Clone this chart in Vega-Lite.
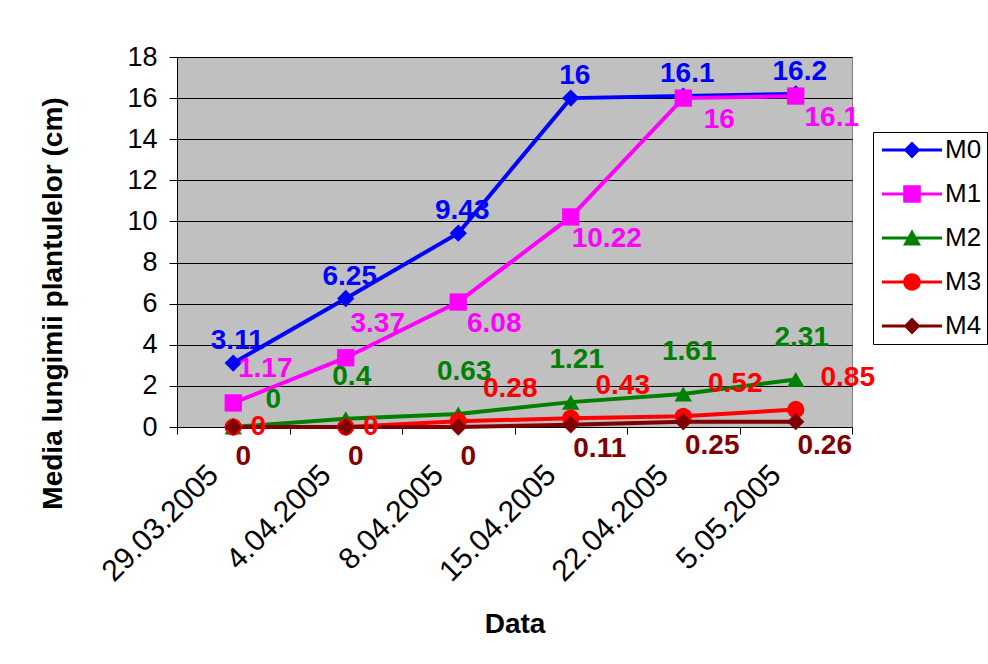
{
  "$schema": "https://vega.github.io/schema/vega-lite/v6.json",
  "autosize": "none",
  "width": 675,
  "height": 370,
  "padding": {"left": 177, "top": 57, "right": 136, "bottom": 237},
  "background": "white",
  "data": {
    "values": [
      {"date": "29.03.2005", "series": "M0", "value": 3.11},
      {"date": "4.04.2005", "series": "M0", "value": 6.25},
      {"date": "8.04.2005", "series": "M0", "value": 9.43},
      {"date": "15.04.2005", "series": "M0", "value": 16},
      {"date": "22.04.2005", "series": "M0", "value": 16.1},
      {"date": "5.05.2005", "series": "M0", "value": 16.2},
      {"date": "29.03.2005", "series": "M1", "value": 1.17},
      {"date": "4.04.2005", "series": "M1", "value": 3.37},
      {"date": "8.04.2005", "series": "M1", "value": 6.08},
      {"date": "15.04.2005", "series": "M1", "value": 10.22},
      {"date": "22.04.2005", "series": "M1", "value": 16},
      {"date": "5.05.2005", "series": "M1", "value": 16.1},
      {"date": "29.03.2005", "series": "M2", "value": 0},
      {"date": "4.04.2005", "series": "M2", "value": 0.4},
      {"date": "8.04.2005", "series": "M2", "value": 0.63},
      {"date": "15.04.2005", "series": "M2", "value": 1.21},
      {"date": "22.04.2005", "series": "M2", "value": 1.61},
      {"date": "5.05.2005", "series": "M2", "value": 2.31},
      {"date": "29.03.2005", "series": "M3", "value": 0},
      {"date": "4.04.2005", "series": "M3", "value": 0},
      {"date": "8.04.2005", "series": "M3", "value": 0.28},
      {"date": "15.04.2005", "series": "M3", "value": 0.43},
      {"date": "22.04.2005", "series": "M3", "value": 0.52},
      {"date": "5.05.2005", "series": "M3", "value": 0.85},
      {"date": "29.03.2005", "series": "M4", "value": 0},
      {"date": "4.04.2005", "series": "M4", "value": 0},
      {"date": "8.04.2005", "series": "M4", "value": 0},
      {"date": "15.04.2005", "series": "M4", "value": 0.11},
      {"date": "22.04.2005", "series": "M4", "value": 0.25},
      {"date": "5.05.2005", "series": "M4", "value": 0.26}
    ]
  },
  "encoding": {
    "x": {
      "field": "date",
      "type": "nominal",
      "sort": ["29.03.2005", "4.04.2005", "8.04.2005", "15.04.2005", "22.04.2005", "5.05.2005"],
      "scale": {"type": "band", "paddingInner": 0, "paddingOuter": 0},
      "axis": {
        "title": "Data",
        "tickBand": "extent",
        "labelAngle": -45,
        "labelAlign": "right",
        "labelBaseline": "middle",
        "labelPadding": 36,
        "labelOffset": -20,
        "labelFontSize": 30,
        "tickSize": 7,
        "titlePadding": 24
      }
    },
    "y": {
      "field": "value",
      "type": "quantitative",
      "scale": {"domain": [0, 18], "nice": false, "zero": true},
      "axis": {
        "title": "Media lungimii plantulelor (cm)",
        "values": [0, 2, 4, 6, 8, 10, 12, 14, 16, 18],
        "grid": true,
        "tickSize": 8,
        "labelPadding": 12,
        "labelFontSize": 27,
        "titleX": -124,
        "titleY": 246,
        "titleAlign": "center",
        "titleBaseline": "middle"
      }
    },
    "color": {
      "field": "series",
      "type": "nominal",
      "scale": {
        "domain": ["M0", "M1", "M2", "M3", "M4"],
        "range": ["#0000ff", "#ff00ff", "#008000", "#ff0000", "#800000"]
      },
      "legend": {
        "title": null,
        "orient": "none",
        "legendX": 696,
        "legendY": 75,
        "padding": 5,
        "strokeColor": "black",
        "fillColor": "white",
        "labelFontSize": 26,
        "labelColor": "black",
        "labelOffset": 41,
        "rowPadding": 18,
        "symbolSize": 256,
        "symbolOpacity": 1,
        "symbolStrokeWidth": 0
      }
    }
  },
  "layer": [
    {
      "description": "Legend carrier: draws no marks, only supplies the line-plus-marker glyphs of the shape scale",
      "transform": [{"filter": "false"}],
      "mark": {"type": "point", "filled": true, "size": 256, "opacity": 1, "strokeWidth": 0},
      "encoding": {
        "shape": {
          "field": "series",
          "type": "nominal",
          "scale": {
            "domain": ["M0", "M1", "M2", "M3", "M4"],
            "range": [
              "M-1.125,-0.19H6.375V0.19H-1.125Z M1.575,0L2.625,-1.05L3.675,0L2.625,1.05Z",
              "M-1.125,-0.19H6.375V0.19H-1.125Z M1.525,-1.1H3.725V1.1H1.525Z",
              "M-1.125,-0.19H6.375V0.19H-1.125Z M2.625,-1.1L3.75,0.95L1.5,0.95Z",
              "M-1.125,-0.19H6.375V0.19H-1.125Z M1.525,0A1.1,1.1,0,1,1,3.725,0A1.1,1.1,0,1,1,1.525,0Z",
              "M-1.125,-0.19H6.375V0.19H-1.125Z M1.575,0L2.625,-1.05L3.675,0L2.625,1.05Z"
            ]
          }
        }
      }
    },
    {
      "mark": {"type": "line", "strokeWidth": 4}
    },
    {
      "mark": {"type": "point", "filled": true, "size": 300, "opacity": 1, "strokeWidth": 0},
      "encoding": {
        "shape": {
          "condition": [
            {"test": "datum.series === 'M1'", "value": "square"},
            {"test": "datum.series === 'M2'", "value": "triangle-up"},
            {"test": "datum.series === 'M3'", "value": "circle"}
          ],
          "value": "diamond"
        }
      }
    },
    {
      "mark": {
        "type": "text",
        "fontSize": 28,
        "fontWeight": "bold",
        "align": "center",
        "baseline": "middle",
        "dx": {"expr": "datum.series === 'M0' ? 4 : datum.series === 'M1' ? (datum.value < 5 ? 32 : 36) : datum.series === 'M2' ? (datum.value === 0 ? 40 : 6) : datum.series === 'M3' ? (datum.value === 0 ? 25 : 52) : (datum.value === 0 ? 10 : 29)"},
        "dy": {"expr": "datum.series === 'M0' ? -22 : datum.series === 'M1' ? (datum.value < 5 ? -34 : 22) : datum.series === 'M2' ? (datum.value === 0 ? -27 : -42) : datum.series === 'M3' ? (datum.value === 0 ? 0 : -32) : (datum.value === 0 ? 30 : 24)"}
      },
      "encoding": {
        "text": {"field": "value", "type": "quantitative"}
      }
    }
  ],
  "config": {
    "font": "Liberation Sans",
    "view": {"fill": "#c0c0c0", "stroke": "#808080", "strokeWidth": 1},
    "axis": {
      "domainColor": "black",
      "domainWidth": 1,
      "tickColor": "black",
      "tickWidth": 1,
      "gridColor": "black",
      "gridWidth": 1,
      "gridOpacity": 1,
      "labelColor": "black",
      "labelFont": "Liberation Sans",
      "titleColor": "black",
      "titleFont": "Liberation Sans",
      "titleFontSize": 28,
      "titleFontWeight": "bold"
    },
    "legend": {
      "labelFont": "Liberation Sans"
    }
  }
}
